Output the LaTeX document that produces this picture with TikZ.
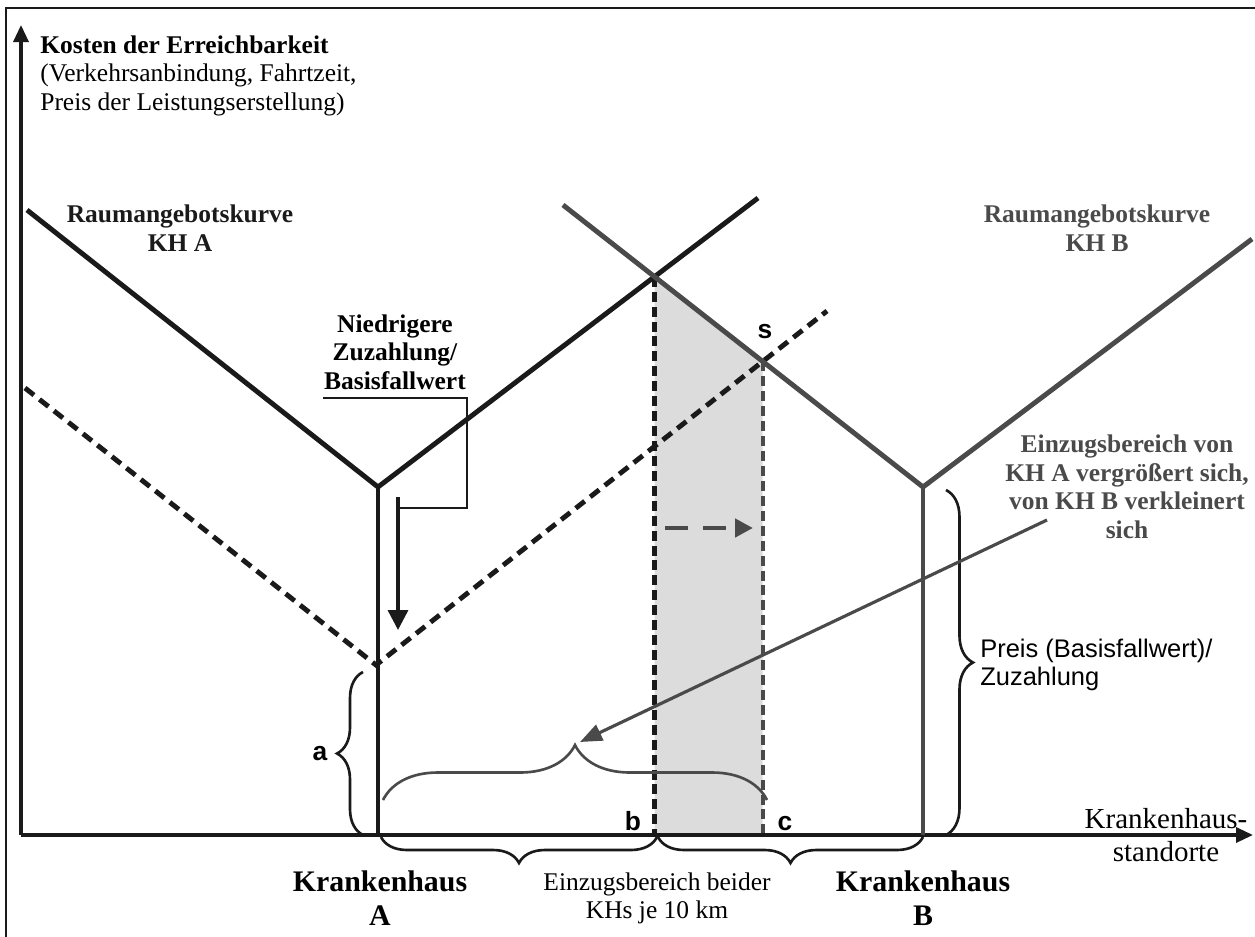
\documentclass[tikz,border=0pt]{standalone}
\usepackage{fontspec}
\setmainfont{Liberation Serif}
\setsansfont{Liberation Sans}
\usetikzlibrary{arrows.meta,decorations.pathreplacing}

\definecolor{darkline}{HTML}{1A1A1A}
\definecolor{grayline}{HTML}{4A4A4A}
\definecolor{grayfill}{HTML}{DCDCDC}

\begin{document}
\begin{tikzpicture}[x=0.02cm, y=-0.02cm, % pixel grid, y runs downwards
  kurveA/.style={darkline, line width=2.8pt},
  kurveB/.style={grayline, line width=2.8pt},
  strichA/.style={darkline, line width=2.8pt, dash pattern=on 6.5pt off 4pt},
  achse/.style={darkline, line width=1.9pt, -{Triangle[length=0.34cm,width=0.3cm]}},
  klammer/.style={decorate, decoration={brace, amplitude=#1}, line width=1.5pt},
  txt/.style={inner sep=0pt, font=\fontsize{14.5}{16.2}\selectfont},
  buchst/.style={inner sep=0pt, font=\fontsize{15}{17}\selectfont\sffamily\bfseries, anchor=base}]

	\useasboundingbox (0,0) rectangle (1255,937);

	% Rahmen
	\draw[darkline, line width=1.1pt] (6,937) -- (6,8) -- (1255,8);

	% Punkte der Kurven
	\coordinate (origin) at (21,835);
	\coordinate (apexA) at (378,487);
	\coordinate (endAl) at (27,210);
	\coordinate (endAr) at (758,198);
	\coordinate (apexB) at (923,487);
	\coordinate (endBl) at (563,205);
	\coordinate (endBr) at (1252,239);
	\coordinate (dapex) at (376,665);
	\coordinate (dl) at (25,388);
	\coordinate (dr) at (827,311);
	\coordinate (cross) at (intersection of apexA--endAr and apexB--endBl);
	\coordinate (s) at (intersection of dapex--dr and apexB--endBl);

	% grau hinterlegter Bereich zwischen b und c
	\fill[grayfill] (cross) -- (s) -- (s |- origin) -- (cross |- origin) -- cycle;
	\draw[darkline, line width=2.5pt, dash pattern=on 5.7pt off 2.8pt] (cross) -- (cross |- origin);
	\draw[grayline, line width=2.5pt, dash pattern=on 5.7pt off 2.8pt] (s) -- (s |- origin);
	\draw[grayline, line width=2.6pt, dash pattern=on 13pt off 8.5pt, -{Triangle[length=0.36cm,width=0.36cm]}] (665,528) -- (753,528);

	% Achsen
	\draw[achse] (origin) -- (21,25);
	\draw[achse] (origin) -- (1253,835);
	\node[txt, anchor=base west, align=left] (ylabel) at (40,110) {\textbf{Kosten der Erreichbarkeit}\\(Verkehrsanbindung, Fahrtzeit,\\Preis der Leistungserstellung)};
	\node[inner sep=0pt, font=\fontsize{16.5}{18.5}\selectfont, align=center, anchor=base] (xlabel) at (1166,861) {Krankenhaus-\\standorte};

	% Raumangebotskurve KH A
	\draw[kurveA] (endAl) -- (apexA) -- (endAr);
	\draw[kurveA] (apexA) -- (apexA |- origin);
	\draw[strichA] (dl) -- (dapex) -- (dr);
	\node[txt, font=\fontsize{14.5}{16.2}\selectfont\bfseries, align=center, anchor=base, darkline] (kurveAtxt) at (180,251) {Raumangebotskurve\\KH A};

	% Raumangebotskurve KH B
	\draw[kurveB] (endBl) -- (apexB) -- (endBr);
	\draw[kurveB] (apexB) -- (apexB |- origin);
	\node[txt, font=\fontsize{14.5}{16.2}\selectfont\bfseries, align=center, anchor=base, grayline] (kurveBtxt) at (1097,251) {Raumangebotskurve\\KH B};

	% Niedrigere Zuzahlung
	\node[txt, font=\fontsize{14.5}{16.2}\selectfont\bfseries, align=center, anchor=base] (niedrig) at (395,389) {Niedrigere\\Zuzahlung/\\Basisfallwert};
	\draw[darkline, line width=0.7pt] (323,398) -- (467,398) |- (398,508);
	\draw[darkline, line width=1.9pt, -{Triangle[length=0.4cm,width=0.4cm]}] (398,497) -- (398,630);

	% Klammern
	\draw[klammer=0.52cm, darkline] (363,835) -- (363,672);
	\node[buchst] (a) at (320,760) {a};
	\draw[klammer=0.54cm, darkline] (946,490) -- (946,835);
	\node[txt, font=\fontsize{14.5}{15.9}\selectfont\sffamily, align=left, anchor=base west] (preis) at (980,685) {Preis (Basisfallwert)/\\Zuzahlung};
	\draw[klammer=0.52cm, darkline] (657,837) -- (381,837);
	\draw[klammer=0.52cm, darkline] (923,837) -- (658,837);
	\draw[klammer=1.1cm, grayline] (383,800) -- (767,800);
	\node[buchst] (b) at (633,830) {b};
	\node[buchst] (c) at (785,830) {c};
	\node[buchst] (stxt) at (765,338) {s};

	% Einzugsbereich
	\node[txt, font=\fontsize{14.5}{16.2}\selectfont\bfseries, align=center, anchor=base, grayline] (einzug) at (1127,538) {Einzugsbereich von\\KH A vergrößert sich,\\von KH B verkleinert\\sich};
	\coordinate (lineStart) at (1047,520);
	\coordinate (braceTip) at (580,742);
	\draw[grayline, line width=1.8pt, -{Triangle[length=0.44cm,width=0.34cm]}] (lineStart) -- (braceTip);

	% Beschriftung unten
	\node[inner sep=0pt, font=\fontsize{17}{18.8}\selectfont\bfseries, align=center, anchor=base] (khA) at (380,925) {Krankenhaus\\A};
	\node[inner sep=0pt, font=\fontsize{17}{18.8}\selectfont\bfseries, align=center, anchor=base] (khB) at (923,925) {Krankenhaus\\B};
	\node[txt, font=\fontsize{14.5}{15.9}\selectfont, align=center, anchor=base] (beider) at (657,918) {Einzugsbereich beider\\KHs je 10 km};
\end{tikzpicture}
\end{document}
